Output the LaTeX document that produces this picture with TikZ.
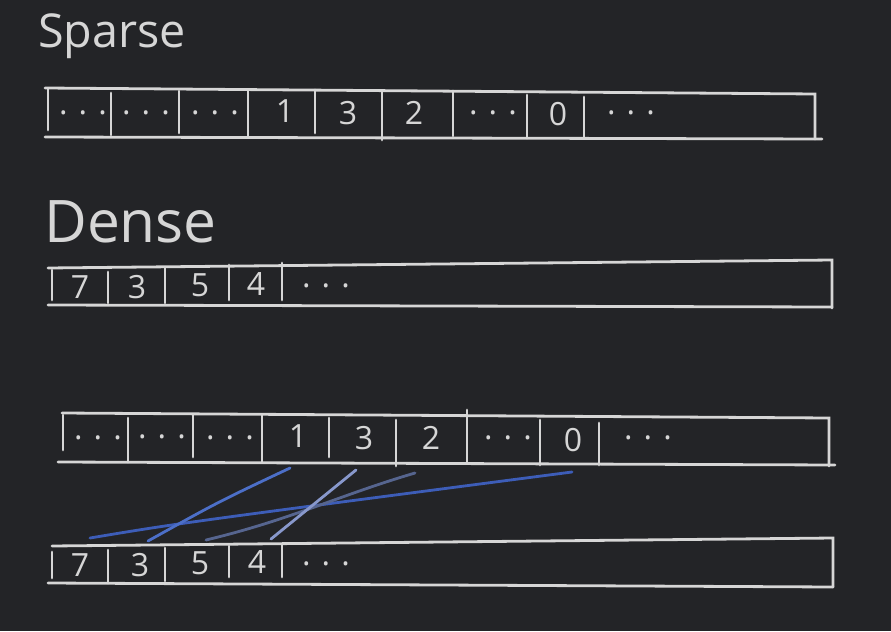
\documentclass[tikz,border=0pt]{standalone}
\usepackage{fontspec}
\setmainfont{Open Sans}
\definecolor{board}{RGB}{35,36,39}
\definecolor{chalk}{RGB}{214,214,214}
\definecolor{linkA}{RGB}{61,93,184}
\definecolor{linkB}{RGB}{76,111,200}
\definecolor{linkC}{RGB}{86,101,143}
\definecolor{linkD}{RGB}{136,152,204}
\begin{document}
\begin{tikzpicture}[x=0.75pt,y=0.75pt,yscale=-1,xscale=1,
    stroke/.style={draw=chalk,line width=2.1pt,line cap=round},
    cell/.style={text=chalk,font=\fontsize{24}{26}\selectfont,inner sep=0.75pt},
    title/.style={text=chalk,anchor=west,inner sep=0pt},
    link/.style={line width=2.1pt,line cap=round}]
\fill[board] (0,0) rectangle (891,631);

% Titles
\node[title,font=\fontsize{35}{36}\selectfont] (sparsetitle) at (38,36) {Sparse};
\node[title,font=\fontsize{44}{46}\selectfont] (densetitle) at (44,222) {Dense};

% Sparse array
\draw[stroke] (45,88) -- (815,94) -- (815,139);
\draw[stroke] (45,137) -- (822,139);
\foreach \x/\a/\b in {48/89/130, 111/93/135, 179/91/133, 248/90/137, 315/90/133,
    382/92/140, 453/91/136, 527/95/138, 584/97/138}
  \draw[stroke] (\x,\a) -- (\x,\b);
\node[cell] (s1) at (83,113) {. . .};
\node[cell] (s2) at (146,113) {. . .};
\node[cell] (s3) at (215,113) {. . .};
\node[cell] (s4) at (285,111) {1};
\node[cell] (s5) at (348,113) {3};
\node[cell] (s6) at (414,113) {2};
\node[cell] (s7) at (493,113) {. . .};
\node[cell] (s8) at (558,114) {0};
\node[cell] (s9) at (631,113) {. . .};

% Dense array
\draw[stroke] (48,268) -- (832,260) -- (832,308);
\draw[stroke] (48,305) -- (832,307);
\foreach \x/\a/\b in {52/270/300, 108/272/303, 165/268/303, 229/265/300, 282/263/300}
  \draw[stroke] (\x,\a) -- (\x,\b);
\node[cell] (d1) at (80,287) {7};
\node[cell] (d2) at (137,287) {3};
\node[cell] (d3) at (200,285) {5};
\node[cell] (d4) at (256,284) {4};
\node[cell] (d5) at (326,286) {. . .};

% Sparse array (mapping)
\draw[stroke] (62,413) -- (829,418) -- (829,466);
\draw[stroke] (58,462) -- (835,465);
\foreach \x/\a/\b in {63/415/450, 128/418/462, 193/415/457, 262/415/462, 329/418/457,
    396/420/466, 467/410/463, 540/420/465, 599/423/465}
  \draw[stroke] (\x,\a) -- (\x,\b);
\node[cell] (m1) at (98,438) {. . .};
\node[cell] (m2) at (162,437) {. . .};
\node[cell] (m3) at (230,438) {. . .};
\node[cell] (m4) at (298,436) {1};
\node[cell] (m5) at (364,438) {3};
\node[cell] (m6) at (431,438) {2};
\node[cell] (m7) at (508,438) {. . .};
\node[cell] (m8) at (573,440) {0};
\node[cell] (m9) at (648,438) {. . .};

% Dense array (mapping)
\draw[stroke] (52,546) -- (833,538) -- (833,587);
\draw[stroke] (48,583) -- (833,587);
\foreach \x/\a/\b in {52/552/578, 108/550/583, 165/548/581, 229/546/577, 282/545/577}
  \draw[stroke] (\x,\a) -- (\x,\b);
\node[cell] (n1) at (80,565) {7};
\node[cell] (n2) at (140,565) {3};
\node[cell] (n3) at (200,563) {5};
\node[cell] (n4) at (257,562) {4};
\node[cell] (n5) at (326,564) {. . .};

% Link ends
\coordinate (a7) at (90,538);   \coordinate (a0) at (572,472);
\coordinate (a3) at (148,541);  \coordinate (a1) at (290,468);
\coordinate (a5) at (206,540);  \coordinate (a2) at (415,473);
\coordinate (a4) at (271,539);  \coordinate (a3b) at (356,470);

\draw[link,linkA] (a7) .. controls (180,523) .. (a0);
\draw[link,linkB] (a3) .. controls (218,502) .. (a1);
\draw[link,linkC] (a5) .. controls (290,520) and (340,495) .. (a2);
\draw[link,linkD] (a4) -- (a3b);
\end{tikzpicture}
\end{document}
